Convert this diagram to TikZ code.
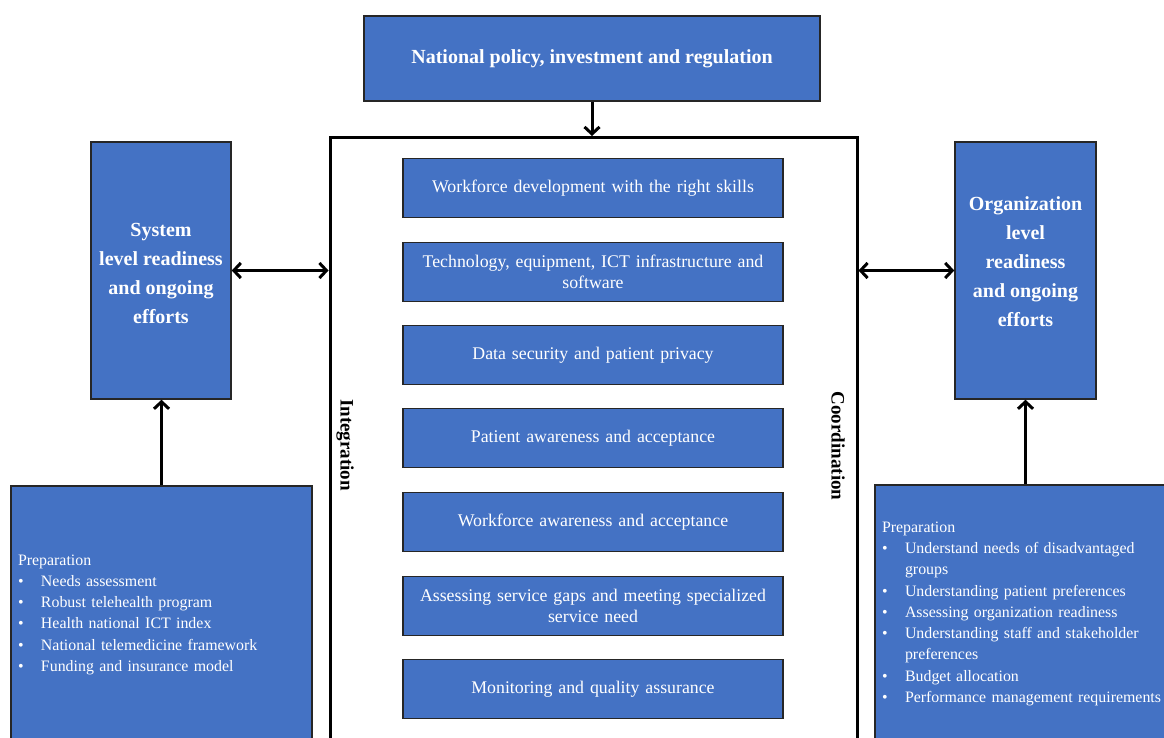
\documentclass[tikz,border=0pt]{standalone}
\usepackage{fontspec}
\setmainfont{Liberation Serif}
\usepackage{tikz}
\usetikzlibrary{calc, positioning, arrows.meta}
\definecolor{boxblue}{RGB}{68,114,196}
\tikzstyle{blk}=[draw=black!85, fill=boxblue, text=white, line width=1.5pt, shape=rectangle, inner sep=0pt, align=center]
\tikzstyle{htxt}=[text=white, align=center, font=\fontsize{20}{29}\selectfont\bfseries]
\tikzstyle{cbox}=[blk, minimum width=380pt, minimum height=59pt, text width=370pt, font=\fontsize{17.8}{21}\selectfont]
\tikzstyle{prep}=[blk, anchor=north, align=left, inner xsep=7pt, minimum height=258pt, font=\fontsize{15.9}{21.3}\selectfont]
\tikzstyle{lbl}=[font=\fontsize{19}{22}\selectfont\bfseries, rotate=-90]
\tikzstyle{arr}=[line width=3pt]
\tikzset{>={Straight Barb[length=7pt,width=15pt]}}
\newcommand{\bitem}[1]{\makebox[23pt][l]{\textbullet}#1}

\begin{document}
\begin{tikzpicture}[x=1pt, y=-1pt]
\useasboundingbox (0,0) rectangle (1164,738);
\clip (0,0) rectangle (1164,738);
% the top box
\node[blk, minimum width=456pt, minimum height=85pt, font=\fontsize{20}{22}\selectfont\bfseries] (pol) at (592,58.5) {National policy, investment and regulation};
% the central frame
\node[draw, line width=3pt, fill=white, minimum width=527pt, minimum height=614pt, anchor=north] (frm) at (593.5,136) {};
\node[lbl] (intg) at (345,445) {Integration};
\node[lbl] (coord) at (838,446) {Coordination};
% the seven inner boxes
\node[cbox] (c1) at (593,188) {Workforce development with the right skills};
\node[cbox] (c2) at (593,272) {Technology, equipment, ICT infrastructure and\\ software};
\node[cbox] (c3) at (593,355) {Data security and patient privacy};
\node[cbox] (c4) at (593,438) {Patient awareness and acceptance};
\node[cbox] (c5) at (593,522) {Workforce awareness and acceptance};
\node[cbox] (c6) at (593,606) {Assessing service gaps and meeting specialized\\ service need};
\node[cbox] (c7) at (593,689) {Monitoring and quality assurance};
% the two readiness boxes
\node[blk, minimum width=140pt, minimum height=257pt] (sys) at (161,270.5) {};
\node[htxt] (sysT) at (161,273) {System\\ level readiness\\ and ongoing\\ efforts};
\node[blk, minimum width=141pt, minimum height=257pt] (org) at (1025.5,270.5) {};
\node[htxt] (orgT) at (1025.5,261.5) {Organization\\ level\\ readiness\\ and ongoing\\ efforts};
% the preparation boxes
\node[prep, minimum width=301pt, text width=287pt] (prepS) at (161.5,485) {Preparation\\
\bitem{Needs assessment}\\
\bitem{Robust telehealth program}\\
\bitem{Health national ICT index}\\
\bitem{National telemedicine framework}\\
\bitem{Funding and insurance model}};
\node[prep, minimum width=300pt, text width=286pt] (prepO) at (1025,484) {Preparation\\
\bitem{Understand needs of disadvantaged}\\
\hspace*{23pt}groups\\
\bitem{Understanding patient preferences}\\
\bitem{Assessing organization readiness}\\
\bitem{Understanding staff and stakeholder}\\
\hspace*{23pt}preferences\\
\bitem{Budget allocation}\\
\bitem{Performance management requirements}};
%
% the arrows
\draw[arr, ->] (pol.south) -- (pol.south |- frm.north);
\draw[arr, <->] (sys.east) -- (sys.east -| frm.west);
\draw[arr, <->] (frm.east |- org.west) -- (org.west);
\draw[arr, ->] (prepS.north) -- (prepS.north |- sys.south);
\draw[arr, ->] (org.south |- prepO.north) -- (org.south);
\end{tikzpicture}
\end{document}
